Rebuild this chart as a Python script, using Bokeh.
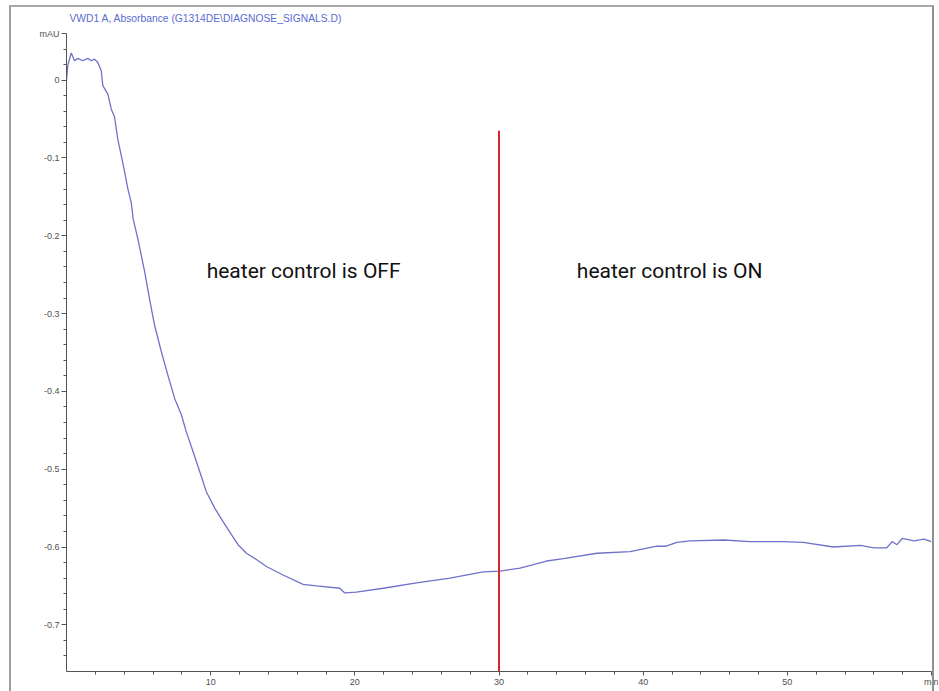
from bokeh.plotting import figure
from bokeh.models import FixedTicker, Label, Range1d
from bokeh.embed import file_html
from bokeh.resources import INLINE

# ---- data ----
time_min = [0.0, 0.1, 0.33, 0.56, 0.78, 1.13, 1.48, 1.72, 1.94, 2.17, 2.41, 2.52, 2.87,
            3.10, 3.33, 3.56, 3.80, 4.03, 4.26, 4.49, 4.62, 4.95, 5.42, 5.76, 6.11,
            6.58, 7.03, 7.50, 7.97, 8.31, 8.77, 9.24, 9.70, 10.28, 10.85, 11.44, 11.90,
            12.48, 13.17, 13.87, 15.02, 16.41, 17.34, 18.96, 19.30, 20.10, 21.97, 24.28,
            26.60, 28.90, 30.07, 31.46, 33.30, 34.47, 36.80, 39.10, 40.95, 41.60, 42.34,
            43.26, 45.60, 47.40, 49.70, 51.10, 53.20, 55.07, 56.00, 56.90, 57.27, 57.60,
            57.97, 58.80, 59.47, 60.0]
absorbance = [0.0, 0.02, 0.035, 0.025, 0.028, 0.025, 0.028, 0.025, 0.027, 0.023, 0.012,
              -0.007, -0.018, -0.037, -0.047, -0.076, -0.097, -0.118, -0.140, -0.157,
              -0.178, -0.204, -0.246, -0.281, -0.315, -0.349, -0.379, -0.409, -0.430,
              -0.452, -0.477, -0.503, -0.529, -0.550, -0.567, -0.584, -0.597, -0.608,
              -0.616, -0.625, -0.636, -0.648, -0.650, -0.653, -0.659, -0.658, -0.653,
              -0.646, -0.640, -0.632, -0.631, -0.627, -0.618, -0.615, -0.608, -0.606,
              -0.599, -0.599, -0.594, -0.592, -0.591, -0.593, -0.593, -0.594, -0.600,
              -0.598, -0.601, -0.601, -0.593, -0.597, -0.589, -0.592, -0.590, -0.593]

marker_x = [30, 30]
marker_y = [-0.065, -0.76]

x_ticks = [10, 20, 30, 40, 50, 60]
x_tick_labels = ["10", "20", "30", "40", "50", "min"]
x_minor = [2, 4, 6, 8, 12, 14, 16, 18, 22, 24, 26, 28, 32, 34, 36, 38, 42, 44, 46, 48,
           52, 54, 56, 58]
y_ticks = [0.06, 0, -0.1, -0.2, -0.3, -0.4, -0.5, -0.6, -0.7]
y_tick_labels = ["mAU", "0", "-0.1", "-0.2", "-0.3", "-0.4", "-0.5", "-0.6", "-0.7"]
y_minor = [0.04, 0.02, -0.02, -0.04, -0.06, -0.08, -0.12, -0.14, -0.16, -0.18,
           -0.22, -0.24, -0.26, -0.28, -0.32, -0.34, -0.36, -0.38, -0.42, -0.44, -0.46,
           -0.48, -0.52, -0.54, -0.56, -0.58, -0.62, -0.64, -0.66, -0.68, -0.72, -0.74]

title_text = "VWD1 A, Absorbance (G1314DE\\DIAGNOSE_SIGNALS.D)"
off_text = "heater control is OFF"
on_text = "heater control is ON"

# ---- figure ----
p = figure(width=938, height=689, output_backend="svg", toolbar_location=None,
           x_range=Range1d(0, 60), y_range=Range1d(-0.76, 0.06),
           min_border_left=66, min_border_right=7, min_border_top=33, min_border_bottom=16)
p.outline_line_color = None
p.xgrid.visible = False
p.ygrid.visible = False
p.background_fill_color = "white"
p.border_fill_color = "white"

p.title.text = title_text
p.title.align = "left"
p.title.offset = 3
p.title.standoff = 20
p.title.text_font = "Liberation Sans"
p.title.text_font_size = "10.3px"
p.title.text_font_style = "normal"
p.title.text_color = "#5a6cd0"

p.stylesheets = [":host::after { content: ''; position: absolute; left: 9px; top: 5px; "
                 "width: 925px; height: 720px; box-sizing: border-box; "
                 "border-left: 2px solid #a0a0a0; border-top: 2px solid #a8a8a8; "
                 "border-right: 2px solid #909090; pointer-events: none; z-index: 10; }"]

axis_col = "#555555"
lab_col = "#505050"
font = "Liberation Sans"

xa = p.xaxis[0]
xa.ticker = FixedTicker(ticks=x_ticks, minor_ticks=x_minor)
xa.major_label_overrides = {t: l for t, l in zip(x_ticks, x_tick_labels)}
xa.axis_line_color = axis_col
xa.major_tick_line_color = axis_col
xa.minor_tick_line_color = axis_col
xa.major_tick_in = 0
xa.major_tick_out = 4
xa.minor_tick_in = 0
xa.minor_tick_out = 3
xa.major_label_standoff = 1
xa.major_label_text_font = font
xa.major_label_text_font_size = "9px"
xa.major_label_text_color = lab_col

ya = p.yaxis[0]
ya.ticker = FixedTicker(ticks=y_ticks, minor_ticks=y_minor)
ya.major_label_overrides = {t: l for t, l in zip(y_ticks, y_tick_labels)}
ya.axis_line_color = axis_col
ya.major_tick_line_color = axis_col
ya.minor_tick_line_color = axis_col
ya.major_tick_in = 0
ya.major_tick_out = 5
ya.minor_tick_in = 0
ya.minor_tick_out = 3
ya.major_label_standoff = 2
ya.major_label_text_font = font
ya.major_label_text_font_size = "9px"
ya.major_label_text_color = lab_col

# signal trace
p.line(time_min, absorbance, line_color="#6f72c8", line_width=1.3)
# heater switch marker
p.line(marker_x, marker_y, line_color="#d8262b", line_width=2)

# texts
p.add_layout(Label(x=9.72, y=-0.245, text=off_text, text_font="Roboto",
                   text_font_size="21px", text_color="#111111", text_baseline="alphabetic"))
p.add_layout(Label(x=35.4, y=-0.245, text=on_text, text_font="Roboto",
                   text_font_size="21px", text_color="#111111", text_baseline="alphabetic"))

open("out.html", "w").write(file_html(p, INLINE))
